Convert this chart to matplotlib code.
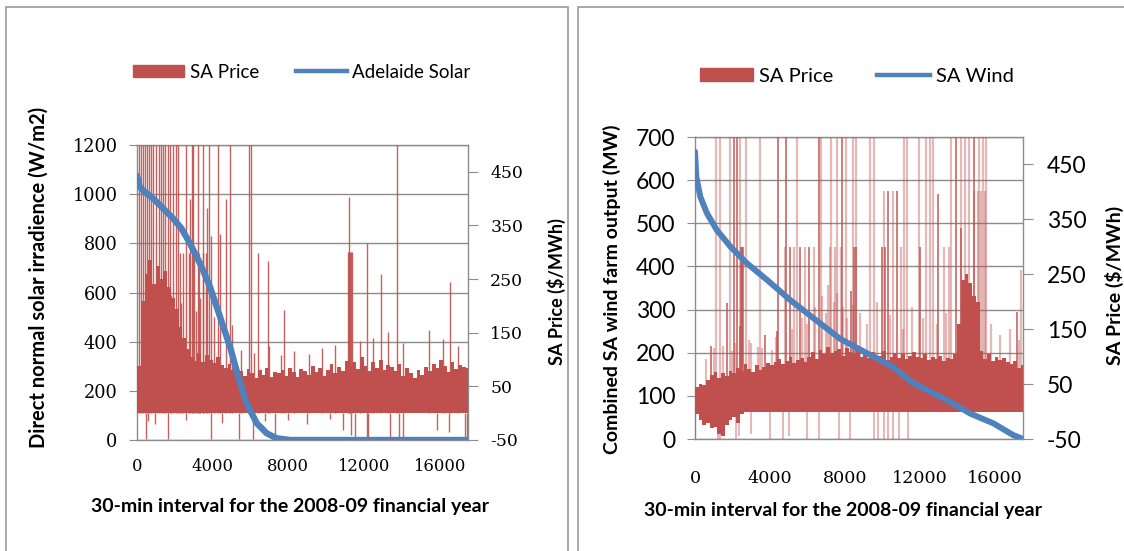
import matplotlib
matplotlib.use("Agg")
import matplotlib.pyplot as plt
import numpy as np
from matplotlib.lines import Line2D
from matplotlib.patches import Patch, Rectangle

RED = "#C0504D"
BLUE = "#4F81BD"
GRID = "#8C8C8C"
N_INT = 17520
BIN = 200

# ---------------- left panel: price ordered by Adelaide solar ----------------
solar_x = [0, 140, 400, 850, 1380, 1900, 2350, 2800, 3330, 3860, 4390, 4920, 5360, 5800, 6340, 6870, 7400, 8100, 17520]
solar_y = [1075, 1030, 1010, 983, 942, 902, 861, 800, 719, 624, 502, 380, 258, 149, 68, 27, 7, 0, 0]

# upper edge of the dense price band, $/MWh, one value per 200 intervals
left_band = [88, 210, 260, 285, 240, 275, 250, 265, 235, 215, 195, 160, 140, 120,
             105, 98, 112, 96, 108, 100, 94, 104, 90, 84, 92, 80, 86,
             78, 70, 82, 74, 66, 80, 72, 85, 68, 76,
             74, 80, 70, 84, 76, 68, 82, 78, 72, 88,
             76, 84, 70, 80, 92, 74, 86, 78, 98, 88,
             95, 82, 104, 88, 78, 96, 84, 100, 80, 90,
             86, 78, 92, 70, 84, 74, 66, 80, 72, 86,
             78, 92, 84, 100, 88, 76, 96, 82, 90, 86, 84]

left_spike_x = [100, 190, 330, 420, 520, 620, 750, 850, 1000, 1140, 1250, 1390, 1490, 1620, 1740,
                1930, 2070, 2160, 2590, 2900, 2970, 3220, 3470, 3800, 4290, 4900, 5930, 6060, 13780,
                2260, 2420, 2740, 3030, 3280, 3500, 3640, 2800, 3700, 3900, 4400, 4700, 5010,
                6410, 6910, 7780, 11200, 11180, 11230, 11280, 11330, 11380, 12160, 12900, 13300,
                15470, 16590, 5500, 6200, 7000, 7600, 8300, 9100, 9800, 10500, 11800, 12500,
                14100, 16200, 17000, 1820, 2350, 3120, 3350, 4050]
left_spike_y = [500, 500, 500, 500, 500, 500, 500, 500, 500, 500, 500, 500, 500, 500, 500,
                500, 500, 500, 500, 500, 500, 500, 500, 500, 500, 500, 500, 500, 500,
                298, 298, 298, 298, 298, 298, 298, 399, 383, 330, 334, 399, 164,
                299, 283, 192, 403, 300, 300, 300, 300, 300, 318, 259, 152,
                156, 245, 118, 112, 125, 108, 115, 110, 122, 128, 135, 140,
                130, 138, 125, 220, 205, 190, 215, 180]

left_dip_x = [460, 600, 950, 1650, 2600, 3900, 4500, 5400, 6150, 6800, 7300, 8000, 9000,
              10200, 10920, 11350, 11530, 12150, 12250, 13380, 13880, 14100, 15900, 16500, 17380, 17450]
left_dip_y = [-48, -15, -20, -48, -12, -48, -18, -48, -48, -15, -45, -12, -20,
              -10, -31, -40, -47, -47, -47, -47, -47, -47, -31, -35, -47, -45]

# ---------------- right panel: price ordered by SA wind ----------------
wind_x = [0, 70, 280, 640, 1170, 1890, 2780, 3840, 5090, 6330, 7760, 9180, 9900, 10600, 11680, 13460, 14700, 15950, 17000, 17520]
wind_y = [666, 608, 562, 523, 484, 446, 407, 369, 322, 280, 232, 199, 183, 166, 129, 90, 59, 36, 9, 0]

right_band = [45, 50, 48, 58, 66, 72, 62, 70, 64, 74,
              70, 80, 74, 86, 78, 72, 84, 76, 82, 88,
              84, 90, 96, 86, 92, 100, 88, 94, 98, 90,
              100, 108, 96, 112, 104, 118, 106, 110, 114, 102, 116, 108, 104, 112, 100,
              104, 98, 108, 96, 102, 110, 94, 100, 106, 98, 104, 96, 102, 108, 100,
              98, 104, 94, 100, 96, 102, 92, 98, 96, 104,
              160, 240, 250, 235, 210, 200,
              110, 96, 104, 92, 100, 94, 98, 90, 86, 92, 80, 84]
# negative part of the band at the windiest end
right_band_low = [-5, -15, -25, -20, -30, -28, -40, -45, -25, -15, -10, -20, -5]

right_dark_x = [2060, 2250, 4460, 4870, 6650, 7870, 13950, 14890,
                2440, 2500, 2560, 5050, 5600, 6100, 8500, 8600, 10000, 10150, 12000,
                10300, 10800, 13000, 14230, 17200, 8330, 850, 1690, 2430, 3750, 4400]
right_dark_y = [500, 500, 500, 500, 500, 500, 500, 500,
                300, 300, 300, 300, 300, 300, 300, 300, 300, 300, 300,
                402, 402, 397, 335, 181, 220, 120, 197, 155, 140, 146]

right_light_x = [1120, 1310, 1870, 2430, 2720, 3460, 5430, 6740, 7270, 7580, 8050, 8430, 8610,
                 9360, 9550, 11140, 11330, 11990, 12360, 12550, 12730, 13670, 14230, 14420,
                 14610, 15170, 15360, 15540, 4800, 5300, 5850, 6350, 7200, 7500, 7800, 11000,
                 13300, 13550, 10100, 10600, 14900, 15100, 15300, 15500, 17400, 8430,
                 1030, 1970, 2160, 3000, 3370, 4120, 7000, 7400, 7600, 7900, 8100,
                 5200, 5700, 6000, 6400, 6800, 7100, 8800, 9200, 9700, 10400, 11100, 11600,
                 12200, 12900, 13400, 15800, 16300, 16800, 17300, 600, 1500, 2900, 3600, 4300]
right_light_y = [500, 500, 500, 500, 500, 500, 500, 500, 500, 500, 500, 500, 500,
                 500, 500, 500, 500, 500, 500, 500, 500, 500, 500, 500,
                 500, 500, 500, 500, 300, 300, 300, 300, 300, 300, 300, 300,
                 300, 300, 402, 402, 402, 402, 402, 402, 258, 194,
                 115, 110, 125, 125, 118, 112, 180, 200, 215, 190, 170,
                 150, 170, 160, 190, 210, 230, 180, 160, 200, 175, 150, 190,
                 170, 160, 180, 160, 140, 150, 130, 95, 120, 130, 115, 135]

right_dip_x = [0, 1250, 1350, 2200, 2350, 3000, 4000, 4700, 5000, 6000, 6650, 7700, 8300,
               9550, 9750, 10100, 10300, 10600, 10900, 11400]
right_dip_y = [-50, -50, -50, -50, -45, -40, -50, -50, -45, -50, -50, -50, -50,
               -50, -50, -50, -50, -50, -50, -50]

XTICKS = [0, 4000, 8000, 12000, 16000]
PRICE_TICKS = [-50, 50, 150, 250, 350, 450]

plt.rcParams["font.family"] = ["Lato", "DejaVu Sans"]
plt.rcParams["axes.unicode_minus"] = False
fig = plt.figure(figsize=(11.24, 5.51), dpi=100)


def px(x0, y0, x1, y1):
    W, H = 1124, 551
    return [x0 / W, 1 - y1 / H, (x1 - x0) / W, (y1 - y0) / H]


def panel(rect, ymax, ystep, line_x, line_y, band, band_low, spikes, dips,
          ylab, xfont, yfont, line_w, lbl):
    ax = fig.add_axes(rect)
    ax.set_xlim(0, N_INT)
    ax.set_ylim(0, ymax)
    ax.set_yticks(np.arange(0, ymax + 1, ystep))
    ax.set_xticks(XTICKS)
    ax.grid(axis="y", color=GRID, lw=1.0)
    ax.set_axisbelow(True)
    for s in ax.spines.values():
        s.set_color(GRID)
        s.set_linewidth(1.0)
    ax.tick_params(axis="y", direction="out", length=6, color=GRID, pad=yfont[2],
                   labelsize=yfont[1])
    ax.tick_params(axis="x", length=0, pad=xfont[2], labelsize=xfont[1])
    for t in ax.get_xticklabels():
        t.set_family(xfont[0])
    for t in ax.get_yticklabels():
        t.set_family(yfont[0])

    axp = ax.twinx()
    axp.set_ylim(-50, 500)
    axp.set_yticks(PRICE_TICKS)
    axp.patch.set_visible(False)
    for s in axp.spines.values():
        s.set_visible(False)
    axp.tick_params(axis="y", direction="out", length=7, color=GRID, pad=yfont[3],
                    labelsize=yfont[4])
    for t in axp.get_yticklabels():
        t.set_family(yfont[0])

    nb = np.arange(len(band)) * BIN
    axp.bar(nb, band, width=BIN, align="edge", color=RED, lw=0)
    if band_low:
        axp.bar(np.arange(len(band_low)) * BIN, band_low, width=BIN, align="edge", color=RED, lw=0)
    for sx, sy, a, w in spikes + dips:
        axp.vlines(sx, 0, sy, color=RED, alpha=a, lw=w)

    axl = ax.twinx()
    axl.set_ylim(0, ymax)
    axl.axis("off")
    axl.plot(line_x, line_y, color=BLUE, lw=line_w, solid_capstyle="round")

    ax.set_ylabel(ylab, fontsize=lbl[0], fontweight="bold", va="center")
    ax.yaxis.set_label_coords(lbl[1], lbl[2])
    axp.set_ylabel("SA Price ($/MWh)", fontsize=lbl[3], fontweight="bold", va="center")
    axp.yaxis.set_label_coords(lbl[4], lbl[5])
    ax.set_xlabel("30-min interval for the 2008-09 financial year", fontsize=lbl[6],
                  fontweight="bold", va="center")
    ax.xaxis.set_label_coords(lbl[7], lbl[8])
    return ax


# left panel
panel(px(137, 145, 468, 440), 1200, 200, solar_x, solar_y, left_band, None,
      [(left_spike_x, left_spike_y, 0.9, 1.0)], [(left_dip_x, left_dip_y, 0.9, 1.0)],
      "Direct normal solar irradience (W/m2)", ("DejaVu Serif", 11.8, 13),
      ("DejaVu Serif", 12.8, 8, 9, 12.4), 4.6,
      (14.5, -0.296, 0.55, 13, 1.268, 0.503, 14, 0.461, -0.227))

# right panel
panel(px(695, 137, 1023, 439), 700, 100, wind_x, wind_y, right_band, right_band_low,
      [(right_light_x, right_light_y, 0.4, 1.6), (right_dark_x, right_dark_y, 0.95, 1.1)],
      [(right_dip_x, right_dip_y, 0.4, 1.5)],
      "Combined SA wind farm output (MW)", ("DejaVu Serif", 12.6, 22),
      ("Lato", 16.5, 8, 10, 16.5), 4.3,
      (14, -0.252, 0.497, 14, 1.278, 0.51, 14, 0.451, -0.238))

# legends
fig.legend(handles=[Patch(color=RED, label="SA Price"),
                    Line2D([], [], color=BLUE, lw=3.2, label="Adelaide Solar")],
           loc="center", bbox_to_anchor=(302 / 1124, 1 - 72 / 551), ncol=2, frameon=False,
           fontsize=13.5, handlelength=2.7, handleheight=0.6, handletextpad=0.3, columnspacing=2.0)
fig.legend(handles=[Patch(color=RED, label="SA Price"),
                    Line2D([], [], color=BLUE, lw=3.2, label="SA Wind")],
           loc="center", bbox_to_anchor=(857 / 1124, 1 - 76 / 551), ncol=2, frameon=False,
           fontsize=14.5, handlelength=2.6, handleheight=0.6, handletextpad=0.3, columnspacing=2.2)

# panel frames
fig.add_artist(Rectangle((6 / 1124, -0.01), 562 / 1124, 1 - 7 / 551 + 0.01,
                         transform=fig.transFigure, fill=False, ec="#9A9A9A", lw=1.2))
fig.add_artist(Rectangle((578 / 1124, -0.01), 0.6, 1 - 7 / 551 + 0.01,
                         transform=fig.transFigure, fill=False, ec="#9A9A9A", lw=1.2))

fig.savefig("out.png", dpi=100, facecolor="white")
